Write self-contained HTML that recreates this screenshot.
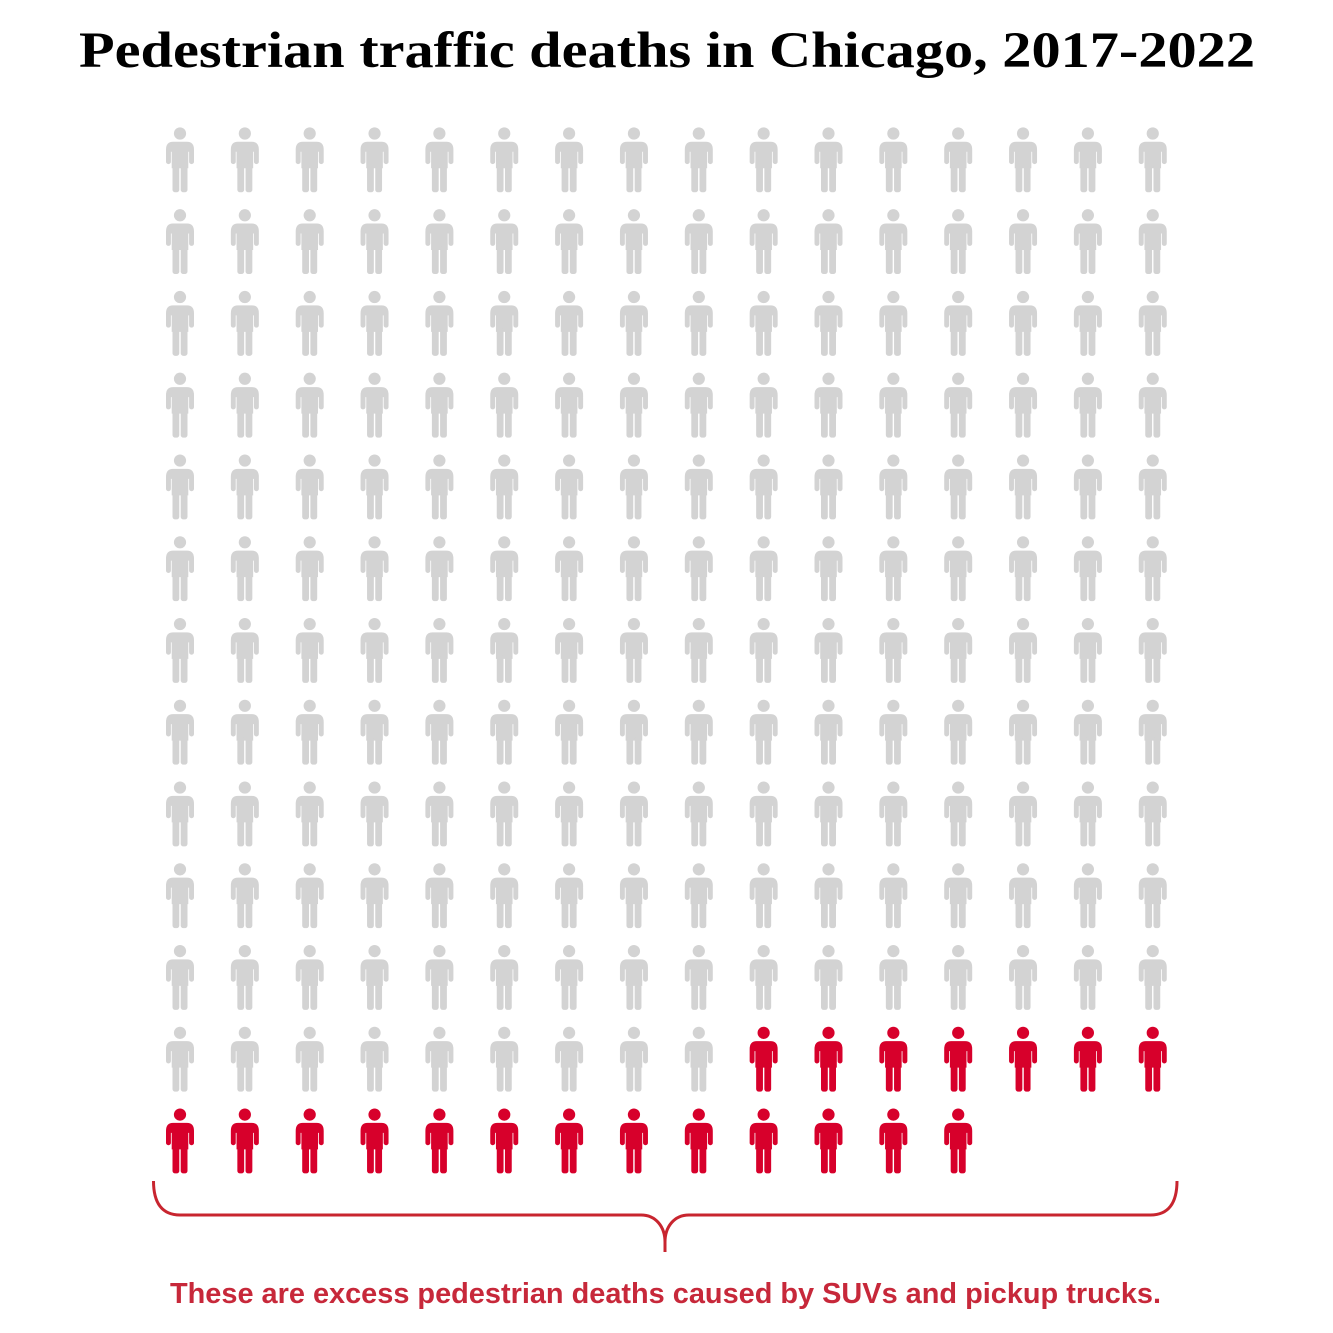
<!DOCTYPE html>
<html>
<head>
<meta charset="utf-8">
<style>
  html, body { margin: 0; padding: 0; background: #ffffff; }
  svg { display: block; }
</style>
</head>
<body>
<svg width="1333" height="1333" viewBox="0 0 1333 1333" xmlns="http://www.w3.org/2000/svg" xmlns:xlink="http://www.w3.org/1999/xlink">
  <defs>
    <g id="p">
      <circle cx="0" cy="6.2" r="6.1"/>
      <path d="M -14 22.5 Q -14 14.5 -7 14.5 H 7 Q 14 14.5 14 22.5 V 34.4 A 2.45 2.45 0 0 1 9.1 34.4 V 24.5 H 8.3 V 41 H -8.3 V 24.5 H -9.1 V 34.4 A 2.45 2.45 0 0 1 -14 34.4 Z"/>
      <rect x="-7.5" y="37" width="6.8" height="28" rx="2.6"/>
      <rect x="0.7" y="37" width="6.8" height="28" rx="2.6"/>
    </g>
    <g id="r">
      <use xlink:href="#p" href="#p" x="180" y="0"/>
      <use xlink:href="#p" href="#p" x="244.85" y="0"/>
      <use xlink:href="#p" href="#p" x="309.7" y="0"/>
      <use xlink:href="#p" href="#p" x="374.55" y="0"/>
      <use xlink:href="#p" href="#p" x="439.4" y="0"/>
      <use xlink:href="#p" href="#p" x="504.25" y="0"/>
      <use xlink:href="#p" href="#p" x="569.1" y="0"/>
      <use xlink:href="#p" href="#p" x="633.95" y="0"/>
      <use xlink:href="#p" href="#p" x="698.8" y="0"/>
      <use xlink:href="#p" href="#p" x="763.65" y="0"/>
      <use xlink:href="#p" href="#p" x="828.5" y="0"/>
      <use xlink:href="#p" href="#p" x="893.35" y="0"/>
      <use xlink:href="#p" href="#p" x="958.2" y="0"/>
      <use xlink:href="#p" href="#p" x="1023.05" y="0"/>
      <use xlink:href="#p" href="#p" x="1087.9" y="0"/>
      <use xlink:href="#p" href="#p" x="1152.75" y="0"/>
    </g>
  </defs>

  <text x="79" y="67" textLength="1176" lengthAdjust="spacingAndGlyphs" font-family="'Liberation Serif', serif" font-weight="bold" font-size="51" fill="#000000">Pedestrian traffic deaths in Chicago, 2017-2022</text>

  <g fill="#d3d3d3">
    <use xlink:href="#r" href="#r" x="0" y="127.3"/>
    <use xlink:href="#r" href="#r" x="0" y="209.06"/>
    <use xlink:href="#r" href="#r" x="0" y="290.82"/>
    <use xlink:href="#r" href="#r" x="0" y="372.58"/>
    <use xlink:href="#r" href="#r" x="0" y="454.34"/>
    <use xlink:href="#r" href="#r" x="0" y="536.1"/>
    <use xlink:href="#r" href="#r" x="0" y="617.86"/>
    <use xlink:href="#r" href="#r" x="0" y="699.62"/>
    <use xlink:href="#r" href="#r" x="0" y="781.38"/>
    <use xlink:href="#r" href="#r" x="0" y="863.14"/>
    <use xlink:href="#r" href="#r" x="0" y="944.9"/>
  </g>

  <!-- row 12 -->
  <g fill="#d3d3d3">
    <use xlink:href="#p" href="#p" x="180" y="1026.66"/>
    <use xlink:href="#p" href="#p" x="244.85" y="1026.66"/>
    <use xlink:href="#p" href="#p" x="309.7" y="1026.66"/>
    <use xlink:href="#p" href="#p" x="374.55" y="1026.66"/>
    <use xlink:href="#p" href="#p" x="439.4" y="1026.66"/>
    <use xlink:href="#p" href="#p" x="504.25" y="1026.66"/>
    <use xlink:href="#p" href="#p" x="569.1" y="1026.66"/>
    <use xlink:href="#p" href="#p" x="633.95" y="1026.66"/>
    <use xlink:href="#p" href="#p" x="698.8" y="1026.66"/>
  </g>
  <g fill="#d7002b">
    <use xlink:href="#p" href="#p" x="763.65" y="1026.66"/>
    <use xlink:href="#p" href="#p" x="828.5" y="1026.66"/>
    <use xlink:href="#p" href="#p" x="893.35" y="1026.66"/>
    <use xlink:href="#p" href="#p" x="958.2" y="1026.66"/>
    <use xlink:href="#p" href="#p" x="1023.05" y="1026.66"/>
    <use xlink:href="#p" href="#p" x="1087.9" y="1026.66"/>
    <use xlink:href="#p" href="#p" x="1152.75" y="1026.66"/>
  </g>

  <!-- row 13 -->
  <g fill="#d7002b">
    <use xlink:href="#p" href="#p" x="180" y="1108.42"/>
    <use xlink:href="#p" href="#p" x="244.85" y="1108.42"/>
    <use xlink:href="#p" href="#p" x="309.7" y="1108.42"/>
    <use xlink:href="#p" href="#p" x="374.55" y="1108.42"/>
    <use xlink:href="#p" href="#p" x="439.4" y="1108.42"/>
    <use xlink:href="#p" href="#p" x="504.25" y="1108.42"/>
    <use xlink:href="#p" href="#p" x="569.1" y="1108.42"/>
    <use xlink:href="#p" href="#p" x="633.95" y="1108.42"/>
    <use xlink:href="#p" href="#p" x="698.8" y="1108.42"/>
    <use xlink:href="#p" href="#p" x="763.65" y="1108.42"/>
    <use xlink:href="#p" href="#p" x="828.5" y="1108.42"/>
    <use xlink:href="#p" href="#p" x="893.35" y="1108.42"/>
    <use xlink:href="#p" href="#p" x="958.2" y="1108.42"/>
  </g>

  <!-- brace -->
  <g fill="none" stroke="#c8252f" stroke-width="3" stroke-linecap="butt">
    <path d="M153.5,1181 C153.5,1203 162,1215 180,1215 L641,1215 C656,1215 665,1227 665,1242 L665,1252"/>
    <path d="M1177,1181 C1177,1203 1168.5,1215 1150.5,1215 L689,1215 C674,1215 665,1227 665,1242"/>
  </g>

  <text x="170" y="1303" textLength="991" lengthAdjust="spacingAndGlyphs" font-family="'Liberation Sans', sans-serif" font-weight="bold" font-size="29" fill="#c7283a">These are excess pedestrian deaths caused by SUVs and pickup trucks.</text>
</svg>
</body>
</html>
